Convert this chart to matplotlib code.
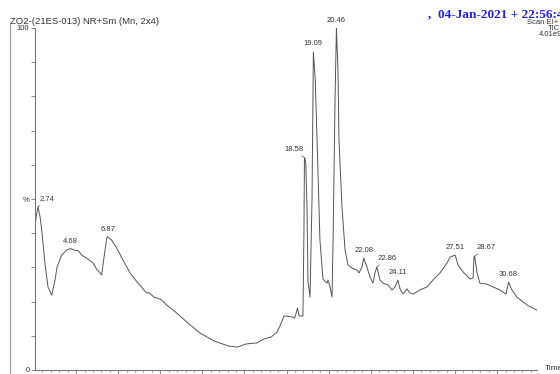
import matplotlib
matplotlib.use("Agg")
import matplotlib.pyplot as plt
from matplotlib.lines import Line2D
from matplotlib.ticker import MultipleLocator, FuncFormatter

plt.rcParams['font.family'] = ['Liberation Sans', 'DejaVu Sans']

# chromatogram trace (time in min, relative abundance %)
times = [2.56, 2.66, 2.74, 2.86, 2.96, 3.15, 3.33, 3.55, 3.75, 3.87, 4.14, 4.44,
         4.68, 4.95, 5.13, 5.33, 5.63, 6.00, 6.22, 6.42, 6.52, 6.66, 6.82, 6.87,
         7.11, 7.41, 7.78, 8.20, 8.68, 9.19, 9.35, 9.49, 9.65, 9.79, 10.08, 10.38,
         10.97, 11.53, 12.36, 13.19, 14.06, 14.58, 15.09, 15.45, 15.74, 16.16, 16.57,
         16.93, 17.11, 17.35, 17.76, 17.98, 18.15, 18.24, 18.47, 18.53, 18.56, 18.58,
         18.64, 18.71, 18.77, 18.89, 19.01, 19.09, 19.20, 19.31, 19.48, 19.66, 19.90,
         19.96, 20.08, 20.20, 20.26, 20.38, 20.46, 20.55, 20.61, 20.79, 20.97, 21.15,
         21.38, 21.68, 21.80, 21.98, 22.08, 22.27, 22.45, 22.63, 22.75, 22.86, 23.05,
         23.22, 23.52, 23.76, 23.94, 24.11, 24.24, 24.41, 24.65, 24.83, 25.01, 25.42,
         25.84, 26.19, 26.61, 27.03, 27.20, 27.51, 27.68, 27.98, 28.39, 28.57, 28.63,
         28.67, 28.81, 28.98, 29.40, 29.76, 30.17, 30.53, 30.68, 30.88, 31.18, 31.78,
         32.43]
abund = [41.8, 45.8, 47.7, 44.8, 40.9, 31.3, 24.3, 21.9, 26.3, 30.1, 33.6, 35.1,
         35.5, 35.0, 34.9, 33.6, 32.7, 31.3, 29.5, 28.4, 27.8, 33.0, 38.6, 39.0,
         38.0, 35.7, 32.2, 28.4, 25.4, 22.5, 22.6, 21.9, 21.2, 21.1, 20.5, 19.0,
         16.7, 14.2, 10.8, 8.5, 7.0, 6.7, 7.6, 7.8, 7.9, 9.1, 9.6,
         11.1, 12.9, 15.8, 15.6, 15.2, 18.1, 15.8, 15.8, 40.0, 61.4, 62.0,
         60.5, 47.7, 26.0, 21.3, 50.0, 93.0, 85.0, 67.3, 38.0, 26.6, 25.4,
         26.3, 24.3, 21.3, 38.0, 80.0, 100.0, 88.0, 67.3, 47.7, 35.1, 30.7,
         29.8, 29.2, 28.4, 30.1, 32.7, 30.1, 27.2, 25.4, 28.4, 30.1, 26.3,
         25.4, 24.9, 23.4, 24.3, 26.3, 23.7, 22.2, 23.7, 22.5, 22.2, 23.4,
         24.3, 26.3, 28.4, 31.3, 33.0, 33.6, 30.7, 28.7, 26.6, 26.9, 33.0,
         33.3, 28.4, 25.4, 25.1, 24.3, 23.4, 22.2, 25.7, 23.4, 21.3, 19.0,
         17.3]

# labelled peaks
peak_times = [2.74, 4.68, 6.87, 18.58, 19.09, 20.46, 22.08, 22.86, 24.11, 27.51, 28.67, 30.68]
peak_heights = [47.7, 35.5, 39.0, 62.0, 93.0, 100.0, 32.7, 30.1, 26.3, 33.6, 33.3, 25.7]
# label offset from apex in pixels, and whether a leader line is drawn
label_offsets = [(9, 4), (0, 4), (0, 4), (-11, 5), (0, 5), (0, 4), (0, 4), (10, 5),
                 (0, 4), (0, 4), (11, 5), (0, 4)]
leaders = [True, False, False, True, False, False, False, True, False, False, True, False]

W, H = 560, 374
fig = plt.figure(figsize=(W / 100, H / 100), dpi=100)
ax = fig.add_axes([35 / W, 4 / H, 502 / W, 342 / H])

ax.plot(times, abund, color='#555555', lw=0.7)
ax.set_xlim(2.56, 32.37)
ax.set_ylim(0, 100)

for s in ['top', 'right']:
    ax.spines[s].set_visible(False)
for s in ['left', 'bottom']:
    ax.spines[s].set_color('#777777')
    ax.spines[s].set_linewidth(0.8)

ax.set_yticks(range(0, 101, 10))
ax.set_yticklabels(['0', '', '', '', '', '%', '', '', '', '', '100'])
ax.xaxis.set_major_locator(MultipleLocator(2.5))
ax.xaxis.set_minor_locator(MultipleLocator(0.5))
ax.xaxis.set_major_formatter(FuncFormatter(
    lambda v, p: f"{v:.2f}" if abs((v - 2.5) % 5) < 1e-6 else ""))
ax.tick_params(axis='y', length=3, width=0.6, colors='#777777', labelcolor='#333333',
               labelsize=5.5, pad=1)
ax.tick_params(axis='x', which='major', length=3, width=0.6, colors='#777777',
               labelcolor='#333333', labelsize=5.5, pad=1)
ax.tick_params(axis='x', which='minor', length=1.5, width=0.5, colors='#777777')

for t, h, off, lead in zip(peak_times, peak_heights, label_offsets, leaders):
    ax.annotate(f"{t:.2f}", xy=(t, h), xytext=off, textcoords='offset pixels',
                ha='center', va='bottom', fontsize=5.5, color='#333333',
                annotation_clip=False,
                arrowprops=dict(arrowstyle='-', lw=0.5, color='#555555',
                                shrinkA=0, shrinkB=0) if lead else None)

fig.add_artist(Line2D([10 / W, 10 / W], [0, 1 - 24 / H], transform=fig.transFigure,
                      color='#999999', lw=0.8))

fig.text(10 / W, 1 - 21 / H, "ZO2-(21ES-013) NR+Sm (Mn, 2x4)", fontsize=6.8,
         color='#333333', va='center', ha='left')
fig.text(428 / W, 1 - 14 / H, ",  04-Jan-2021 + 22:56:42", fontsize=9.5,
         color='#2020ee', fontweight='bold', family='Liberation Serif',
         va='center', ha='left')
fig.text(527 / W, 1 - 22 / H, "Scan EI+", fontsize=5.5, color='#333333', va='center')
fig.text(548 / W, 1 - 28 / H, "TIC", fontsize=5.5, color='#333333', va='center')
fig.text(539 / W, 1 - 34 / H, "4.01e9", fontsize=5.5, color='#333333', va='center')
fig.text(545 / W, 1 - 369 / H, "Time", fontsize=6, color='#333333', va='center')

fig.savefig('out.png', dpi=100)
